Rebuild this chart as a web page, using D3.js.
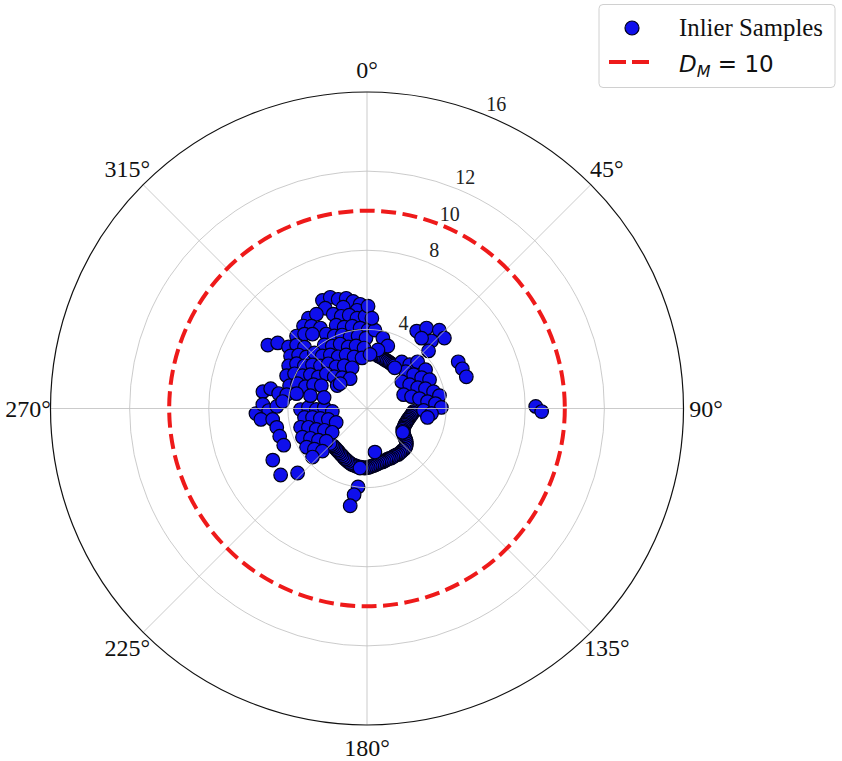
<!DOCTYPE html>
<html><head><meta charset="utf-8">
<script src="https://cdn.jsdelivr.net/npm/d3@7"></script>
<style>html,body{margin:0;padding:0;background:#fff;} svg{display:block}</style>
</head><body>
<svg id="chart" width="842" height="761"></svg>
<script>
// ---------- data ----------
const angleTicks = [0, 45, 90, 135, 180, 225, 270, 315];
const angleTickLabels = ["0°", "45°", "90°", "135°", "180°", "225°", "270°", "315°"];
const radialTicks = [4, 8, 10, 12, 16];
const radialTickLabels = ["4", "8", "10", "12", "16"];
const radialGrid = [4, 8, 12];
const rMax = 16;
const dmRadius = 10;
const legendLabels = ["Inlier Samples", "D", "M", " = 10"];

// dense trajectory-ordered samples (angle in degrees clockwise from north, radius)
const trackTheta = [
  11.8, 13.7, 15.6, 17.5, 19.3, 21.2, 23.1, 25.0, 26.9, 28.8, 30.7, 32.6,
  93.7, 95.6, 97.5, 99.6, 101.8, 103.9, 106.0, 108.1, 110.0, 112.1, 114.0, 116.1, 118.2, 120.3,
  122.0, 123.6, 125.0, 126.4, 127.7, 128.9, 130.2, 131.8, 133.5, 135.3, 137.4, 139.5, 141.6, 143.7,
  145.8, 147.7, 149.8, 151.9, 153.9, 155.9, 157.9, 159.9, 161.9, 163.9, 165.8, 167.7, 169.6, 171.5,
  173.3, 175.1, 176.9, 178.8, 180.6, 182.5, 184.3, 186.1, 187.9, 189.8, 191.7, 193.6, 195.5, 197.5,
  199.5, 201.5, 203.5, 205.5, 207.6, 209.7, 211.8, 213.9, 216.0, 218.1, 220.2, 222.3, 224.4, 226.5
];
const trackR = [
  2.72, 2.70, 2.69, 2.66, 2.64, 2.62, 2.61, 2.60, 2.58, 2.57, 2.56, 2.55,
  2.36, 2.32, 2.28, 2.24, 2.20, 2.16, 2.14, 2.12, 2.10, 2.09, 2.08, 2.09, 2.10, 2.09,
  2.15, 2.21, 2.27, 2.34, 2.43, 2.52, 2.60, 2.67, 2.73, 2.77, 2.79, 2.78, 2.79, 2.80,
  2.81, 2.78, 2.77, 2.78, 2.79, 2.77, 2.76, 2.78, 2.80, 2.81, 2.80, 2.82, 2.85, 2.88,
  2.90, 2.92, 2.95, 2.98, 3.00, 3.01, 3.00, 2.98, 2.99, 2.97, 2.95, 2.94, 2.92, 2.89,
  2.85, 2.81, 2.78, 2.74, 2.70, 2.67, 2.64, 2.61, 2.59, 2.57, 2.56, 2.55, 2.56, 2.58
];

// remaining samples
const sampleTheta = [
  337.6, 341.7, 345.2, 349.3, 352.6, 356.2, 337.4, 346.8, 354.2,
  327.0, 331.8, 340.3, 344.4, 349.2, 353.7, 358.8,
  322.4, 326.0, 329.9, 339.7, 344.3, 349.8, 355.1, 0.7,
  315.8, 320.0, 323.7, 331.3, 335.7, 341.3, 346.7, 353.0, 359.2,
  302.6, 306.3, 308.1, 312.0, 314.5, 326.1, 330.9, 337.4, 343.0, 350.1, 357.2,
  304.5, 308.0, 310.4, 316.6, 319.7, 325.6, 330.9, 338.7, 346.0, 354.4,
  298.6, 302.4, 304.3, 308.7, 312.5, 319.1, 323.6, 331.9, 339.9,
  292.2, 295.6, 296.9, 300.8, 303.1, 310.5, 314.1, 321.1, 330.5,
  286.4, 289.7, 289.5, 294.0, 296.6, 307.5, 312.8,
  279.2, 281.6, 279.6, 279.8, 281.9,
  5.8, 12.7, 18.4, 10.6, 3.2, 0.6, 3.1,
  32.7, 36.5, 42.7, 47.7, 43.7, 37.8, 46.9,
  62.9, 67.4, 72.3,
  89.3, 91.0,
  36.7, 44.3, 47.3, 56.5, 46.5, 54.1, 60.6, 65.3, 52.4, 60.8, 67.6, 71.3, 75.8, 79.9,
  69.3, 75.1, 79.3, 83.5, 85.9, 89.2, 92.0, 94.4, 98.4, 34.3,
  169.7, 186.7, 123.7, 186.5, 188.5, 189.8,
  267.4, 272.2, 268.8, 271.3, 274.7, 264.1, 263.4, 258.2, 252.4, 246.2, 241.3, 232.4, 227.1,
  269.1, 271.0, 268.9, 271.3, 265.1, 261.9, 260.7, 258.0, 254.2, 245.7, 254.2, 252.2, 247.6,
  242.9, 235.6, 246.0, 242.2, 236.9, 231.2, 237.4, 232.3, 226.3, 228.3, 282.8, 284.4
];
const sampleR = [
  5.91, 5.92, 5.71, 5.67, 5.46, 5.28, 5.49, 5.26, 4.99,
  5.44, 5.41, 5.06, 4.84, 4.80, 4.59, 4.66,
  5.26, 5.02, 4.70, 4.49, 4.27, 4.23, 4.08, 3.96,
  5.11, 4.91, 4.66, 4.29, 4.02, 3.92, 3.71, 3.69, 3.56,
  5.95, 5.60, 5.04, 4.79, 4.43, 3.87, 3.61, 3.53, 3.25, 3.21, 3.06,
  4.69, 4.39, 4.02, 3.87, 3.49, 3.28, 2.99, 2.91, 2.69, 2.57,
  4.51, 4.22, 3.83, 3.53, 3.19, 2.99, 2.62, 2.45, 2.19,
  4.39, 4.06, 3.66, 3.33, 2.93, 2.70, 2.31, 2.00, 1.73,
  4.08, 3.73, 3.30, 2.96, 2.58, 1.90, 1.85,
  5.33, 4.97, 4.53, 4.12, 3.64,
  3.98, 3.65, 3.33, 3.01, 2.74, 5.17, 4.57,
  4.65, 5.06, 5.39, 5.29, 4.72, 4.50, 4.26,
  5.18, 5.22, 5.27,
  8.53, 8.83,
  2.94, 3.09, 3.48, 3.55, 2.70, 2.91, 3.17, 3.48, 2.22, 2.47, 2.77, 3.12, 3.47, 3.72,
  1.98, 2.33, 2.70, 3.08, 3.47, 3.76, 2.86, 3.27, 3.09, 2.49,
  2.24, 3.03, 2.17, 3.99, 4.41, 4.99,
  5.62, 5.27, 4.97, 4.56, 4.28, 5.39, 4.80, 4.66, 4.63, 4.60, 5.43, 5.51, 4.79,
  3.36, 2.96, 2.56, 2.16, 1.76, 3.19, 2.79, 2.41, 2.03, 1.71, 3.49, 3.11, 2.77,
  2.42, 2.13, 3.57, 3.23, 2.93, 2.64, 3.63, 3.36, 3.12, 3.69, 2.93, 2.24
];

// ---------- chart ----------
const svg = d3.select('#chart');
const cx = 367, cy = 408.5, R = 316.5;
const rScale = d3.scaleLinear().domain([0, rMax]).range([0, R]);
const aScale = d3.scaleLinear().domain([0, 360]).range([0, 2 * Math.PI]);
const serif = "'Liberation Serif','Times New Roman',serif";
const blue = '#0f0fec';
const edge = '#000018';

const g = svg.append('g').attr('transform', `translate(${cx},${cy})`);

const allR = trackR.concat(sampleR);
const pts = trackTheta.concat(sampleTheta).map((t, i) => ({ t, r: allR[i] }));

// samples
g.append('g').selectAll('circle').data(pts).join('circle')
  .attr('cx', d => d3.pointRadial(aScale(d.t), rScale(d.r))[0])
  .attr('cy', d => d3.pointRadial(aScale(d.t), rScale(d.r))[1])
  .attr('r', 6.8)
  .attr('fill', blue)
  .attr('stroke', edge)
  .attr('stroke-width', 1.2);

// grid (above scatter, like matplotlib)
const grid = g.append('g').attr('stroke', '#c2c2c2').attr('stroke-opacity', 0.85)
  .attr('fill', 'none').attr('stroke-width', 1);
grid.selectAll('circle').data(radialGrid).join('circle').attr('r', d => rScale(d));
grid.selectAll('line').data(angleTicks).join('line')
  .attr('x1', 0).attr('y1', 0)
  .attr('x2', d => d3.pointRadial(aScale(d), R)[0])
  .attr('y2', d => d3.pointRadial(aScale(d), R)[1]);

// D_M circle
g.append('circle').attr('r', rScale(dmRadius))
  .attr('fill', 'none').attr('stroke', '#ee1a1a').attr('stroke-width', 4)
  .attr('stroke-dasharray', '15,6.5');

// outer spine
g.append('circle').attr('r', R).attr('fill', 'none').attr('stroke', '#111').attr('stroke-width', 1.2);

// radial tick labels
g.append('g').selectAll('text').data(radialTicks).join('text')
  .attr('x', d => d3.pointRadial(aScale(23), rScale(d) + 14)[0])
  .attr('y', d => d3.pointRadial(aScale(23), rScale(d) + 14)[1])
  .attr('text-anchor', 'middle').attr('dominant-baseline', 'central')
  .attr('font-family', serif).attr('font-size', 20).attr('fill', '#222')
  .text((d, i) => radialTickLabels[i]);

// angle tick labels
g.append('g').selectAll('text').data(angleTicks).join('text')
  .attr('x', d => d3.pointRadial(aScale(d), R + 22.5)[0])
  .attr('y', d => d3.pointRadial(aScale(d), R + 22.5)[1])
  .attr('text-anchor', 'middle').attr('dominant-baseline', 'central')
  .attr('font-family', serif).attr('font-size', 24).attr('fill', '#111')
  .text((d, i) => angleTickLabels[i]);

// legend
const lg = svg.append('g');
lg.append('rect').attr('x', 599).attr('y', 4.5).attr('width', 236).attr('height', 83).attr('rx', 4)
  .attr('fill', '#fff').attr('stroke', '#d0d0d0').attr('stroke-width', 1);
lg.append('circle').attr('cx', 632).attr('cy', 28).attr('r', 7)
  .attr('fill', blue).attr('stroke', edge).attr('stroke-width', 1.2);
lg.append('text').attr('x', 679).attr('y', 36).attr('font-family', serif).attr('font-size', 24.8)
  .attr('fill', '#111').text(legendLabels[0]);
lg.append('line').attr('x1', 609).attr('x2', 651).attr('y1', 62).attr('y2', 62)
  .attr('stroke', '#ee1a1a').attr('stroke-width', 4).attr('stroke-dasharray', '17,6');
const dm = lg.append('text').attr('x', 679).attr('y', 72)
  .attr('font-family', "'DejaVu Sans',sans-serif").attr('font-size', 23).attr('fill', '#111');
dm.append('tspan').attr('font-style', 'italic').text(legendLabels[1]);
dm.append('tspan').attr('font-style', 'italic').attr('font-size', 16).attr('dy', 5).text(legendLabels[2]);
dm.append('tspan').attr('dy', -5).text(legendLabels[3]);
</script>
</body></html>
